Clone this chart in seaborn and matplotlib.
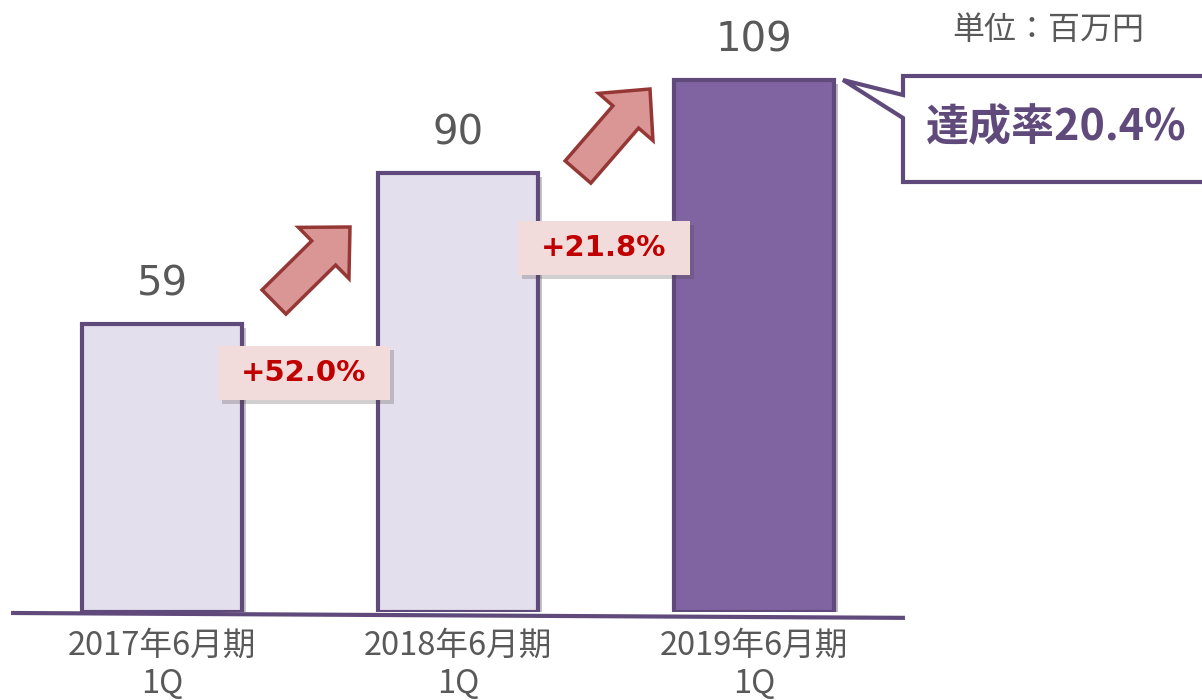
import numpy as np
import pandas as pd
import seaborn as sns
import matplotlib.pyplot as plt
import matplotlib.patheffects as pe
from matplotlib.patches import FancyArrow, Polygon, Rectangle
from matplotlib.transforms import Affine2D

# ─── Data ───────────────────────────────────────────────────────────────────────
categories = ["2017年6月期\n1Q", "2018年6月期\n1Q", "2019年6月期\n1Q"]
values = [59, 90, 109]
growth_labels = ["+52.0%", "+21.8%"]
achievement_label = "達成率20.4%"
unit_label = "単位：百万円"

# ─── Style ──────────────────────────────────────────────────────────────────────
LIGHT = "#e4dfec"
DARK = "#8064a2"
EDGE = "#604a7b"
GRAY = "#595959"
ARROW_FILL = "#d99694"
ARROW_EDGE = "#953735"
BOX_FILL = "#f2dcdb"
RED = "#c00000"

sns.set_theme(style="white")
plt.rcParams["font.family"] = ["Noto Sans CJK JP", "DejaVu Sans"]

W, H = 1202, 700
fig = plt.figure(figsize=(W / 100, H / 100), dpi=100)
# pixel coords measured from the top-left corner of the image
px = Affine2D().scale(1 / W, -1 / H).translate(0, 1) + fig.transFigure

base_y = 612
ax = fig.add_axes([0, (H - base_y) / H, 1, base_y / H])

shadow = [pe.SimplePatchShadow(offset=(3, -3), alpha=0.3, rho=0.3), pe.Normal()]

df = pd.DataFrame({"period": categories, "sales": values})
sns.barplot(
    data=df, x="period", y="sales", hue="period", legend=False,
    palette=[LIGHT, LIGHT, DARK], width=0.54, edgecolor=EDGE,
    linewidth=3, saturation=1, ax=ax,
)
for bar in ax.patches:
    bar.set_path_effects(shadow)

for cont in ax.containers:
    ax.bar_label(cont, fmt="%d", padding=14, fontsize=29, color=GRAY,
                 family="DejaVu Sans")

# map categories to image pixels: centre of first bar at 162px, 296px apart
x0_px, x_step = 162, 296
ax.set_xlim(-x0_px / x_step, (W - x0_px) / x_step)
ax.set_ylim(0, base_y / 4.88)
sns.despine(ax=ax, left=True, bottom=True, top=True, right=True)
ax.set_yticks([])
ax.set_xlabel("")
ax.set_ylabel("")
ax.tick_params(axis="x", length=0, pad=13)
for lbl in ax.get_xticklabels():
    lbl.set_fontsize(23.5)
    lbl.set_color(GRAY)
    lbl.set_linespacing(1.25)

# baseline
ax.plot([-0.51, 2.51], [-0.2, -1.2], color=EDGE, lw=3, clip_on=False,
        solid_capstyle="butt", path_effects=shadow, zorder=5)

# ─── Growth arrows and labels ──────────────────────────────────────────────────
for (x0, y0, x1, y1) in [(274, 302, 350, 227), (578, 172, 650, 89)]:
    arr = FancyArrow(x0, y0, x1 - x0, y1 - y0, width=34, head_width=72,
                     head_length=37, length_includes_head=True,
                     facecolor=ARROW_FILL, edgecolor=ARROW_EDGE, lw=2.5,
                     transform=px)
    fig.add_artist(arr)

for (cx, cy), txt in zip([(304, 373), (604, 248)], growth_labels):
    rect = Rectangle((cx - 86, cy - 27), 172, 54, transform=px,
                     facecolor=BOX_FILL, edgecolor="none",
                     path_effects=[pe.SimplePatchShadow(offset=(3, -3), alpha=0.25),
                                   pe.Normal()])
    fig.add_artist(rect)
    fig.text(cx, cy, txt, transform=px, ha="center", va="center",
             fontsize=21, fontweight="bold", color=RED, family="DejaVu Sans")

# ─── Callout ───────────────────────────────────────────────────────────────────
callout = Polygon([(903, 76), (1215, 76), (1215, 182), (903, 182), (903, 118),
                   (843, 80), (903, 95)], closed=True, transform=px,
                  facecolor="white", edgecolor=EDGE, lw=3, joinstyle="miter")
fig.add_artist(callout)
fig.text(926, 127, achievement_label, transform=px, ha="left", va="center",
         fontsize=31, fontweight="bold", color=EDGE)

fig.text(1048, 30, unit_label, transform=px, ha="center", va="center",
         fontsize=23, color=GRAY)

fig.savefig("out.png", dpi=100)
